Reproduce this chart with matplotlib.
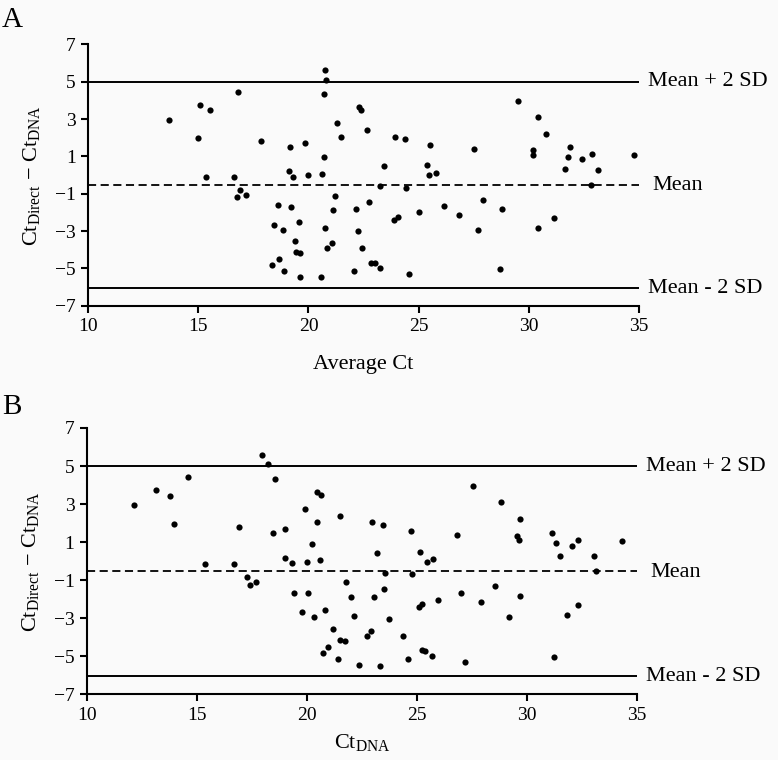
import matplotlib
matplotlib.use("Agg")
import matplotlib.pyplot as plt

# ---------------- data ----------------
# Panel A: average Ct vs difference
avg_ct = [16.80, 15.06, 15.55, 13.67, 14.99, 17.84, 15.34, 16.62, 20.77, 20.80,
          20.71, 22.28, 22.38, 21.29, 21.49, 22.68, 23.95, 24.40, 25.50, 19.18,
          19.84, 20.70, 23.42, 25.40, 25.49, 25.79, 19.12, 19.29, 20.00, 20.63,
          29.52, 30.41, 30.79, 27.52, 30.20, 30.20, 31.86, 31.80, 32.44, 32.86,
          31.65, 33.15, 34.80, 32.85, 26.17, 26.82, 27.91, 27.70, 28.79, 28.70,
          30.43, 31.17, 16.90, 16.77, 17.17, 23.26, 24.41, 21.21, 18.61, 19.20,
          21.11, 22.15, 22.77, 25.02, 23.90, 24.06, 18.43, 18.85, 19.56, 20.73,
          22.23, 19.41, 21.08, 20.84, 19.44, 19.62, 22.43, 18.36, 18.67, 18.87,
          19.62, 20.58, 22.05, 22.86, 23.00, 23.23, 24.56]
diff_a = [4.43, 3.75, 3.47, 2.97, 2.00, 1.81, -0.09, -0.12, 5.61, 5.09,
          4.34, 3.66, 3.49, 2.79, 2.06, 2.40, 2.02, 1.92, 1.61, 1.49,
          1.70, 0.95, 0.47, 0.52, 0.02, 0.10, 0.22, -0.09, -0.01, 0.07,
          3.99, 3.13, 2.22, 1.42, 1.34, 1.08, 1.49, 0.99, 0.84, 1.11,
          0.31, 0.27, 1.08, -0.53, -1.66, -2.14, -1.33, -2.92, -1.82, -5.03,
          -2.82, -2.30, -0.80, -1.19, -1.05, -0.58, -0.67, -1.12, -1.60, -1.71,
          -1.87, -1.83, -1.44, -1.99, -2.41, -2.25, -2.69, -2.94, -2.53, -2.85,
          -3.01, -3.53, -3.65, -3.89, -4.10, -4.19, -3.92, -4.80, -4.51, -5.12,
          -5.47, -5.47, -5.12, -4.69, -4.73, -4.99, -5.30]

# Panel B: Ct DNA vs difference
ct_dna = [17.94, 14.59, 13.15, 13.79, 12.15, 13.97, 16.91,
          18.24, 18.53, 20.44, 20.62, 19.89, 21.48, 20.44, 22.95, 23.47, 24.71,
          18.44, 18.99, 20.23, 23.17, 25.15, 19.01,
          19.32, 20.01, 20.59, 25.44, 25.74, 23.53, 24.77, 21.77, 19.39, 20.05,
          22.02, 23.06, 23.50, 25.08, 25.21, 25.97, 19.76, 20.32, 20.83, 22.15,
          23.73, 21.17, 22.90, 22.74, 21.50, 21.71, 24.38, 20.95, 20.74, 21.41,
          22.35, 23.33, 24.60, 25.21, 25.36, 25.70,
          15.35, 16.68, 17.27, 17.39, 17.70,
          27.55, 28.83, 29.70, 26.80, 29.55, 29.65, 31.12, 31.32, 32.03, 32.33,
          34.32, 31.51, 33.03,
          33.14, 27.00, 27.91, 28.56, 29.17, 29.70, 31.83, 32.33, 27.18, 31.23]
diff_b = [5.58, 4.40, 3.74, 3.44, 2.96, 1.96, 1.79,
          5.09, 4.30, 3.65, 3.47, 2.74, 2.35, 2.04, 2.04, 1.88, 1.56,
          1.46, 1.68, 0.91, 0.44, 0.49, 0.19,
          -0.11, -0.04, 0.05, -0.04, 0.09, -0.63, -0.68, -1.12, -1.65, -1.70,
          -1.86, -1.86, -1.49, -2.40, -2.25, -2.02, -2.68, -2.95, -2.58, -2.86,
          -3.05, -3.56, -3.67, -3.91, -4.12, -4.19, -3.95, -4.51, -4.81, -5.12,
          -5.47, -5.51, -5.12, -4.68, -4.72, -5.00,
          -0.14, -0.16, -0.81, -1.23, -1.11,
          3.96, 3.12, 2.19, 1.39, 1.32, 1.09, 1.46, 0.96, 0.82, 1.11,
          1.05, 0.26, 0.26,
          -0.54, -1.70, -2.17, -1.33, -2.95, -1.82, -2.81, -2.30, -5.32, -5.05]

mean_diff = -0.53
upper_loa = 5.0
lower_loa = -6.06

x_ticks = [10, 15, 20, 25, 30, 35]
y_ticks = [-7, -5, -3, -1, 1, 3, 5, 7]
line_labels = ["Mean + 2 SD", "Mean", "Mean - 2 SD"]

# ---------------- style ----------------
plt.rcParams["font.family"] = ["Liberation Serif", "DejaVu Serif"]
plt.rcParams["mathtext.fontset"] = "custom"
plt.rcParams["mathtext.rm"] = "Liberation Serif"
plt.rcParams["mathtext.it"] = "Liberation Serif:italic"

BG = "#fafafa"
fig = plt.figure(figsize=(7.78, 7.60), dpi=100, facecolor=BG)

W, H = 778.0, 760.0
axA = fig.add_axes([88.3 / W, 1 - 305.7 / H, 550.4 / W, 261.3 / H])
axB = fig.add_axes([87.0 / W, 1 - 694.3 / H, 550.0 / W, 266.3 / H])

ylab = r"Ct$_{\mathrm{Direct}}$ $-$ Ct$_{\mathrm{DNA}}$"


def draw(ax, xs, ys, xlabel, xpad):
    ax.set_facecolor(BG)
    ax.set_xlim(10, 35)
    ax.set_ylim(-7, 7)
    for s in ["top", "right"]:
        ax.spines[s].set_visible(False)
    for s in ["left", "bottom"]:
        ax.spines[s].set_linewidth(1.5)
    ax.set_xticks(x_ticks)
    ax.set_yticks(y_ticks)
    ax.tick_params(direction="out", length=5, width=1.5, labelsize=14,
                   pad=4)
    ax.axhline(upper_loa, color="black", lw=1.4)
    ax.axhline(lower_loa, color="black", lw=1.4)
    ax.axhline(mean_diff, color="black", lw=1.3, ls=(0, (4.5, 2.5)))
    ax.scatter(xs, ys, s=20, color="black", zorder=3, linewidths=0)
    ax.set_ylabel(ylab, fontsize=16, labelpad=9)
    ax.set_xlabel(xlabel, fontsize=16, labelpad=xpad)
    ax.text(35.4, upper_loa, line_labels[0], fontsize=16, va="center",
            ha="left", clip_on=False)
    ax.text(35.6, mean_diff - 0.05, line_labels[1], fontsize=16, va="center",
            ha="left", clip_on=False)
    ax.text(35.4, lower_loa, line_labels[2], fontsize=16, va="center",
            ha="left", clip_on=False)


draw(axA, avg_ct, diff_a, "Average Ct", 14)
draw(axB, ct_dna, diff_b, r"Ct$_{\mathrm{DNA}}$", 6)

fig.text(2 / W, 1 - 20 / H, "A", fontsize=21, va="center", ha="left")
fig.text(2 / W, 1 - 407 / H, "B", fontsize=21, va="center", ha="left")

fig.savefig("out.png", dpi=100, facecolor=BG)
